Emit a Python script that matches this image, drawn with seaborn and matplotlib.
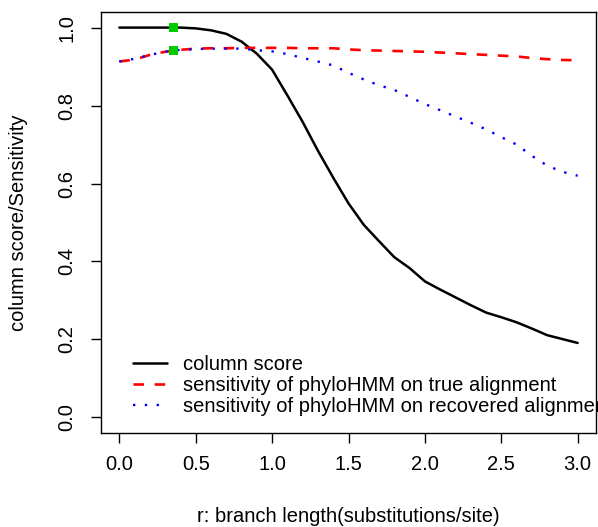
import matplotlib
matplotlib.use('Agg')
import matplotlib.pyplot as plt
import seaborn as sns
import pandas as pd

sns.set_theme(style='white')
plt.rcParams['font.family'] = ['Liberation Sans', 'DejaVu Sans']

r_values = [0.0, 0.1, 0.2, 0.3, 0.4, 0.5, 0.6, 0.7, 0.8, 0.9, 1.0,
            1.1, 1.2, 1.3, 1.4, 1.5, 1.6, 1.7, 1.8, 1.9, 2.0,
            2.1, 2.2, 2.3, 2.4, 2.5, 2.6, 2.7, 2.8, 2.9, 3.0]
column_score = [1.0, 1.0, 1.0, 1.0, 1.0, 0.998, 0.993, 0.984, 0.964, 0.933, 0.892,
                0.826, 0.758, 0.684, 0.615, 0.549, 0.494, 0.452, 0.411, 0.383, 0.349,
                0.328, 0.308, 0.288, 0.269, 0.257, 0.244, 0.228, 0.211, 0.201, 0.191]
sens_true = [0.913, 0.918, 0.930, 0.938, 0.943, 0.946, 0.947, 0.947, 0.948, 0.948, 0.948,
             0.948, 0.947, 0.947, 0.947, 0.944, 0.942, 0.941, 0.940, 0.939, 0.938,
             0.936, 0.934, 0.932, 0.930, 0.928, 0.926, 0.922, 0.919, 0.917, 0.916]
sens_recovered = [0.913, 0.920, 0.930, 0.938, 0.943, 0.945, 0.946, 0.946, 0.946, 0.942, 0.939,
                  0.932, 0.922, 0.913, 0.903, 0.884, 0.867, 0.852, 0.840, 0.822, 0.804,
                  0.788, 0.772, 0.756, 0.739, 0.719, 0.700, 0.671, 0.646, 0.630, 0.620]
marker_x = [0.355, 0.355]
marker_y = [1.0, 0.941]

labels = ['column score',
          'sensitivity of phyloHMM on true alignment',
          'sensitivity of phyloHMM on recovered alignment']
x_ticks = [0.0, 0.5, 1.0, 1.5, 2.0, 2.5, 3.0]
x_tick_labels = ['0.0', '0.5', '1.0', '1.5', '2.0', '2.5', '3.0']
y_ticks = [0.0, 0.2, 0.4, 0.6, 0.8, 1.0]
y_tick_labels = ['0.0', '0.2', '0.4', '0.6', '0.8', '1.0']
x_label = 'r: branch length(substitutions/site)'
y_label = 'column score/Sensitivity'

FS = 14.5
W, H = 598, 527
fig = plt.figure(figsize=(W / 100, H / 100), dpi=100)
ax = fig.add_axes([101 / W, (H - 433) / H, 495 / W, 421 / H])

df = pd.DataFrame({'r': r_values, 'cs': column_score,
                   'st': sens_true, 'sr': sens_recovered})
sns.lineplot(data=df, x='r', y='cs', color='black', lw=1.8, ax=ax, label=labels[0])
sns.lineplot(data=df, x='r', y='st', color='#FF0000', lw=1.9, ax=ax, label=labels[1])
sns.lineplot(data=df, x='r', y='sr', color='#0000FF', lw=1.7, ax=ax, label=labels[2])
lines = ax.get_lines()
lines[1].set_dashes((4, 4))
lines[2].set_dashes((1, 4))
sns.scatterplot(x=marker_x, y=marker_y, marker='s', s=45, color='#00CC00',
                edgecolor='none', ax=ax, zorder=5)

ax.set_xlim(-0.12, 3.12)
ax.set_ylim(-0.04, 1.04)
ax.set_xticks(x_ticks)
ax.set_xticklabels(x_tick_labels, fontsize=FS)
ax.set_yticks(y_ticks)
ax.set_yticklabels(y_tick_labels, fontsize=FS, rotation=90, va='center')
ax.tick_params(axis='both', direction='out', length=7, width=1, color='black',
               labelcolor='black', bottom=True, left=True)
ax.tick_params(axis='x', pad=9)
ax.tick_params(axis='y', pad=11)
for s in ax.spines.values():
    s.set_color('black')
    s.set_linewidth(1)
    s.set_visible(True)

ax.set_xlabel(x_label, fontsize=FS, color='black')
ax.set_ylabel(y_label, fontsize=FS, color='black')
ax.xaxis.label.set_va('center')
ax.yaxis.label.set_va('center')
ax.xaxis.set_label_coords(0.5, (433 - 517) / 421)
ax.yaxis.set_label_coords((19 - 101) / 495, 0.5)

leg = ax.legend(loc='lower left', bbox_to_anchor=((133 - 101) / 495, (433 - 416) / 421),
                bbox_transform=ax.transAxes, frameon=False, fontsize=FS,
                handlelength=1.7, handletextpad=0.8, labelspacing=0.1,
                borderpad=0, borderaxespad=0)
for t in leg.get_texts():
    t.set_color('black')

fig.savefig('out.png', dpi=100)
